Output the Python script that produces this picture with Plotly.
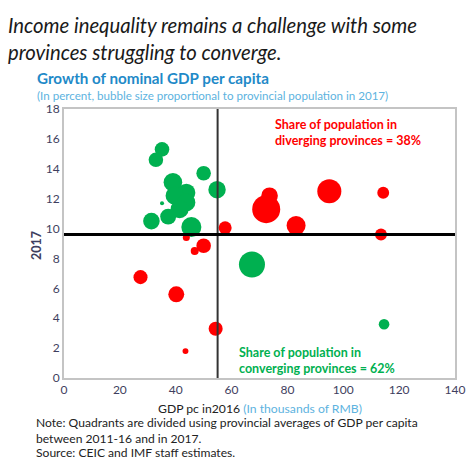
import plotly.graph_objects as go

# Converging provinces (green)
conv_gdp16 = [35.1, 32.9, 50.0, 54.8, 39.0, 43.8, 39.6, 43.8, 41.4, 37.3, 35.1, 31.3, 45.6, 67.3, 114.6]
conv_g17   = [15.3, 14.6, 13.7, 12.6, 13.1, 12.4, 12.2, 11.75, 11.3, 10.8, 11.7, 10.5, 10.1, 7.6, 3.6]
conv_pop   = [30, 30, 30, 43, 49, 46, 46, 46, 46, 36, 2.3, 39, 57, 96, 16]

# Diverging provinces (red)
div_gdp16 = [95.0, 114.3, 73.6, 72.4, 83.1, 113.5, 57.7, 43.8, 50.0, 46.8, 27.4, 40.2, 54.3, 43.5]
div_g17   = [12.5, 12.4, 12.2, 11.3, 10.2, 9.6, 10.05, 9.4, 8.85, 8.5, 6.75, 5.6, 3.3, 1.8]
div_pop   = [82, 20, 39, 111, 51, 20, 24, 7, 30, 9, 28, 36, 28, 5]

avg_gdp16 = 55.0
avg_g17 = 9.6

x_ticks = [0, 20, 40, 60, 80, 100, 120, 140]
y_ticks = [0, 2, 4, 6, 8, 10, 12, 14, 16, 18]

GREEN = "#00B050"
RED = "#FF0000"
BLUE = "#1F8AC8"
LBLUE = "#5DB3E0"
TICK = "#3E3E5E"
FONT = "Lato, Open Sans, sans-serif"

maxpop = max(conv_pop + div_pop)
sizeref = 2.0 * maxpop / (28 ** 2)

fig = go.Figure()
fig.add_trace(go.Scatter(
    x=conv_gdp16, y=conv_g17, mode="markers",
    marker=dict(size=conv_pop, sizemode="area", sizeref=sizeref, color=GREEN,
                line=dict(width=0), opacity=1),
    showlegend=False, hoverinfo="skip"))
fig.add_trace(go.Scatter(
    x=div_gdp16, y=div_g17, mode="markers",
    marker=dict(size=div_pop, sizemode="area", sizeref=sizeref, color=RED,
                line=dict(width=0), opacity=1),
    showlegend=False, hoverinfo="skip"))

# Quadrant lines
fig.add_shape(type="line", xref="x", yref="y", x0=avg_gdp16, x1=avg_gdp16, y0=0, y1=18,
              line=dict(color="#333333", width=2), layer="above")
fig.add_shape(type="line", xref="x", yref="y", x0=0, x1=140, y0=avg_g17, y1=avg_g17,
              line=dict(color="black", width=3), layer="above")

L, R, T, B = 64, 11, 109, 89
W, H = 466, 467
pw, ph = W - L - R, H - T - B

def px(x):
    return (x - L) / pw

def py(y):
    return (H - B - y) / ph

ann = []
ann.append(dict(text="<i>Income inequality remains a challenge with some</i>", x=px(7), y=py(25),
                xanchor="left", yanchor="middle", font=dict(size=20.3, color="#1a1a1a", family=FONT)))
ann.append(dict(text="<i>provinces struggling to converge.</i>", x=px(7), y=py(52),
                xanchor="left", yanchor="middle", font=dict(size=20.3, color="#1a1a1a", family=FONT)))
ann.append(dict(text="<b>Growth of nominal GDP per capita</b>", x=px(36), y=py(78),
                xanchor="left", yanchor="middle", font=dict(size=15.2, color=BLUE, family=FONT)))
ann.append(dict(text="(In percent, bubble size proportional to provincial population in 2017)", x=px(36), y=py(95),
                xanchor="left", yanchor="middle", font=dict(size=11.6, color=LBLUE, family=FONT)))
ann.append(dict(text="<b>2017</b>", x=px(36), y=py(246), textangle=-90,
                xanchor="center", yanchor="middle", font=dict(size=12.5, color=TICK, family=FONT)))
ann.append(dict(text="GDP pc in2016 <span style='color:%s'>(In thousands of RMB)</span>" % LBLUE,
                x=px(260), y=py(408), xanchor="center", yanchor="middle",
                font=dict(size=12.2, color="#222222", family=FONT)))
ann.append(dict(text="Note: Quadrants are divided using provincial averages of GDP per capita<br>between 2011-16 and in 2017.",
                x=px(35), y=py(430), xanchor="left", yanchor="middle", align="left",
                font=dict(size=12.1, color="#222222", family=FONT)))
ann.append(dict(text="Source: CEIC and IMF staff estimates.",
                x=px(35), y=py(452), xanchor="left", yanchor="middle", align="left",
                font=dict(size=12.1, color="#222222", family=FONT)))
ann.append(dict(text="<b>Share of population in<br>diverging provinces = 38%</b>",
                x=px(274), y=py(132), xanchor="left", yanchor="middle", align="left",
                font=dict(size=12.5, color=RED, family=FONT)))
ann.append(dict(text="<b>Share of population in<br>converging provinces = 62%</b>",
                x=px(238), y=py(360), xanchor="left", yanchor="middle", align="left",
                font=dict(size=12.5, color=GREEN, family=FONT)))
for a in ann:
    a.update(xref="paper", yref="paper", showarrow=False, borderpad=0)

fig.update_layout(
    width=W, height=H,
    margin=dict(l=L, r=R, t=T, b=B, pad=0, autoexpand=False),
    paper_bgcolor="white", plot_bgcolor="white",
    annotations=ann,
    font=dict(family=FONT),
    xaxis=dict(range=[0, 140], tickvals=x_ticks, showgrid=False, zeroline=False,
               showline=True, linecolor="#C4C4C4", linewidth=2, mirror=True, automargin=False,
               ticklabeloverflow="allow",
               ticks="", tickfont=dict(size=12, color=TICK, family=FONT)),
    yaxis=dict(range=[0, 18], tickvals=y_ticks, showgrid=False, zeroline=False,
               showline=True, linecolor="#C4C4C4", linewidth=2, mirror=True, automargin=False,
               ticklabeloverflow="allow",
               ticks="", tickfont=dict(size=12, color=TICK, family=FONT)),
)
fig.write_html("out.html", config={"displayModeBar": False},
               post_script="document.body.style.margin='0';document.body.style.overflow='hidden';")
